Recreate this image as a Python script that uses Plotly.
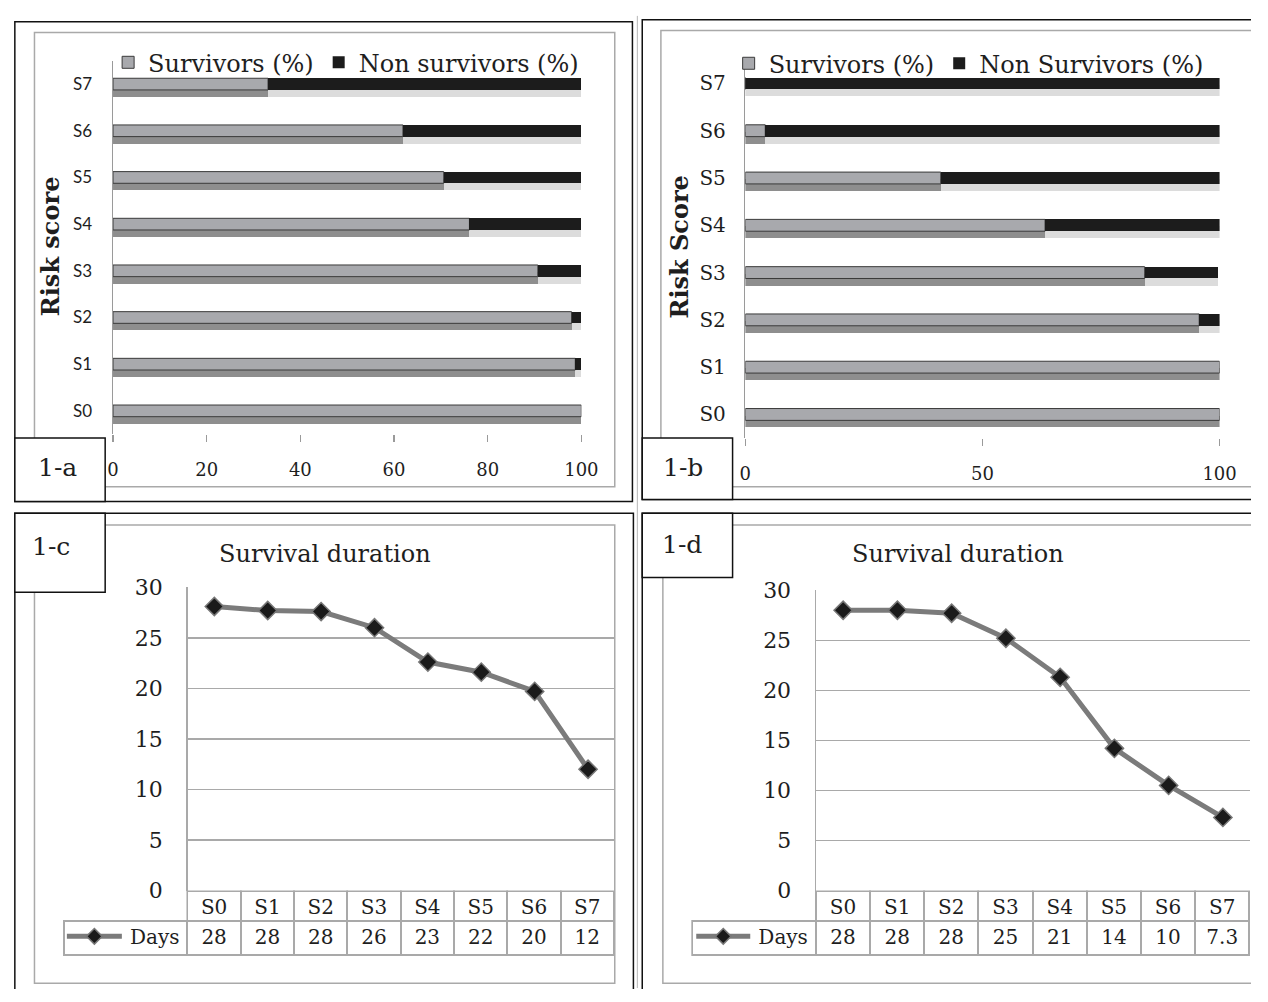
import plotly.graph_objects as go

W, H = 1268, 1002
def px(x): return x / W
def py(y): return 1 - y / H

# ---------------- data ----------------
scores = ["S0", "S1", "S2", "S3", "S4", "S5", "S6", "S7"]
surv_a = [100, 98.7, 97.9, 90.7, 76.1, 70.6, 61.9, 33.1]
non_a = [0, 1.3, 2.1, 9.3, 23.9, 29.4, 38.1, 66.9]
surv_b = [100, 100, 95.7, 84.2, 63.2, 41.2, 4.2, 0]
non_b = [0, 0, 4.3, 15.4, 36.8, 58.8, 95.8, 100]
days_c = [28.1, 27.7, 27.6, 26.0, 22.6, 21.6, 19.7, 12.0]
days_c_text = ["28", "28", "28", "26", "23", "22", "20", "12"]
days_d = [28.0, 28.0, 27.7, 25.2, 21.3, 14.2, 10.5, 7.3]
days_d_text = ["28", "28", "28", "25", "21", "14", "10", "7.3"]
xticks_a = [0, 20, 40, 60, 80, 100]
xticks_b = [0, 50, 100]
yticks_line = [0, 5, 10, 15, 20, 25, 30]

SERIF = "DejaVu Serif"
GREY_BAR = "#a8a9ad"
BLACK_BAR = "#1c1c1c"
GRID = "#a9a9a9"
TXT = "#1e1e1e"

fig = go.Figure()

BW = 0.25
SH = 0.15


def add_bars(xa, ya, surv, non, legend, non_name):
    # soft drop shadows under the bars
    fig.add_trace(go.Bar(y=scores, x=surv, base=[0] * len(surv), orientation="h",
                         width=BW, offset=-BW / 2 - SH, marker=dict(color="#8e8e8e", line=dict(width=0)),
                         xaxis=xa, yaxis=ya, showlegend=False, hoverinfo="skip"))
    fig.add_trace(go.Bar(y=scores, x=non, base=surv, orientation="h",
                         width=BW, offset=-BW / 2 - SH, marker=dict(color="#dcdcdc", line=dict(width=0)),
                         xaxis=xa, yaxis=ya, showlegend=False, hoverinfo="skip"))
    # main bars
    fig.add_trace(go.Bar(y=scores, x=surv, base=[0] * len(surv), orientation="h", name="Survivors (%)",
                         width=BW, offset=-BW / 2,
                         marker=dict(color=GREY_BAR, line=dict(color="#3a3a3a", width=1)),
                         xaxis=xa, yaxis=ya, legend=legend))
    fig.add_trace(go.Bar(y=scores, x=non, base=surv, orientation="h", name=non_name,
                         width=BW, offset=-BW / 2,
                         marker=dict(color=BLACK_BAR, line=dict(color=BLACK_BAR, width=0)),
                         xaxis=xa, yaxis=ya, legend=legend))


add_bars("x", "y", surv_a, non_a, "legend", "Non survivors (%)")
add_bars("x2", "y2", surv_b, non_b, "legend2", "Non Survivors (%)")

line_style = dict(mode="lines+markers", line=dict(color="#7b7b7b", width=5),
                  marker=dict(symbol="diamond", size=14, color="#1a1a1a",
                              line=dict(color="#777777", width=1.5)),
                  showlegend=False)
fig.add_trace(go.Scatter(x=scores, y=days_c, xaxis="x3", yaxis="y3", **line_style))
fig.add_trace(go.Scatter(x=scores, y=days_d, xaxis="x4", yaxis="y4", **line_style))


def add_table(x0, x1, first_w, values_text):
    colw = (x1 - x0 - first_w) / 8
    fig.add_trace(go.Table(
        domain=dict(x=[px(x0), px(x1)], y=[py(970), py(902)]),
        columnwidth=[first_w] + [colw] * 8,
        header=dict(values=[""] + scores, height=30,
                    fill=dict(color=["rgba(0,0,0,0)"] + ["white"] * 8),
                    line=dict(color=["rgba(0,0,0,0)"] + [GRID] * 8, width=2),
                    align="center", font=dict(family=SERIF, size=20, color=TXT)),
        cells=dict(values=[["Days"]] + [[v] for v in values_text], height=34,
                   fill=dict(color="white"),
                   line=dict(color=GRID, width=2),
                   align=["right"] + ["center"] * 8,
                   font=dict(family=SERIF, size=20, color=TXT)),
    ))


add_table(59, 620, 126, days_c_text)
add_table(699, 1267, 126, days_d_text)

bar_x_common = dict(showgrid=False, zeroline=False, showline=False, ticks="outside",
                    ticklen=7, tickcolor="#9a9a9a", tickwidth=1.5,
                    tickfont=dict(family=SERIF, size=18, color=TXT), ticklabelstandoff=12,
                    fixedrange=True)
bar_y_common = dict(showgrid=False, zeroline=False, showline=True, linecolor="#9a9a9a",
                    linewidth=1.5, ticks="", type="category", categoryarray=scores,
                    range=[-0.5, 7.5], fixedrange=True)

fig.update_layout(
    xaxis=dict(domain=[px(109), px(586)], range=[0, 100], tickvals=xticks_a, anchor="y", **bar_x_common),
    yaxis=dict(domain=[py(433), py(50)], anchor="x", ticklabelstandoff=16,
               tickfont=dict(family="Lato", size=17, color=TXT), **bar_y_common),
    xaxis2=dict(domain=[px(753), px(1236)], range=[0, 100], tickvals=xticks_b, anchor="y2", **bar_x_common),
    yaxis2=dict(domain=[py(437), py(49)], anchor="x2", ticklabelstandoff=14,
                tickfont=dict(family=SERIF, size=20, color=TXT), **bar_y_common),
)

line_x_common = dict(type="category", categoryarray=scores, range=[-0.5, 7.5],
                     showticklabels=False, showgrid=False, zeroline=False, showline=False,
                     ticks="", fixedrange=True)
line_y_common = dict(range=[0, 30], tickvals=yticks_line, showgrid=True, gridcolor=GRID,
                     gridwidth=1.5, zeroline=False, showline=True, linecolor=GRID, linewidth=1.5,
                     ticks="", tickfont=dict(family=SERIF, size=22, color=TXT),
                     ticklabelstandoff=19, fixedrange=True)
fig.update_layout(
    xaxis3=dict(domain=[px(185), px(620)], anchor="y3", **line_x_common),
    yaxis3=dict(domain=[py(901), py(590)], anchor="x3", **line_y_common),
    xaxis4=dict(domain=[px(825), px(1267)], anchor="y4", **line_x_common),
    yaxis4=dict(domain=[py(901), py(593)], anchor="x4", **line_y_common),
)

shapes = []
def poly(points, color, width, closed=False, fill=None, layer="below"):
    p = " ".join(("M" if i == 0 else "L") + f" {px(x)} {py(y)}" for i, (x, y) in enumerate(points))
    if closed:
        p += " Z"
    d = dict(type="path", xref="paper", yref="paper", path=p,
             line=dict(color=color, width=width), layer=layer)
    if fill:
        d["fillcolor"] = fill
    shapes.append(d)

def rect(x0, y0, x1, y1, color, width, fill="rgba(0,0,0,0)", layer="below"):
    shapes.append(dict(type="rect", xref="paper", yref="paper",
                       x0=px(x0), x1=px(x1), y0=py(y1), y1=py(y0),
                       line=dict(color=color, width=width), fillcolor=fill, layer=layer))

BLK = "#111111"
GRY = "#a9a9a9"
# outer black frames (panels b, c, d run off the page edge)
rect(9, 10, 638, 502, BLK, 1.5)
poly([(1268, 8), (648, 8), (648, 500), (1268, 500)], BLK, 1.5)
poly([(9, 1002), (9, 514), (639, 514), (639, 1002)], BLK, 1.5)
poly([(648, 1002), (648, 514), (1268, 514)], BLK, 1.5)
# inner grey chart areas
rect(29, 21, 620, 487, GRY, 1.5)
poly([(1268, 19), (667, 19), (667, 487), (1268, 487)], GRY, 1.5)
rect(29, 526, 620, 996, GRY, 1.5)
poly([(1268, 526), (669, 526), (669, 996), (1268, 996)], GRY, 1.5)
poly([(643, 4), (643, 1001)], "#b5b5b5", 1)
# panel label boxes
rect(9, 437, 101, 502, BLK, 1.5, fill="white", layer="above")
rect(648, 437, 740, 500, BLK, 1.5, fill="white", layer="above")
rect(9, 514, 101, 595, BLK, 1.5, fill="white", layer="above")
rect(648, 514, 740, 580, BLK, 1.5, fill="white", layer="above")

# legend keys inside the data tables
for (lx0, lx1, cy) in [(62, 118, 948), (703, 758, 948)]:
    poly([(lx0, cy), (lx1, cy)], "#7b7b7b", 5, layer="above")
    cx = (lx0 + lx1) / 2
    d = 8
    poly([(cx, cy - d), (cx + d, cy), (cx, cy + d), (cx - d, cy)], "#777777", 1.5,
         closed=True, fill="#1a1a1a", layer="above")

annotations = []
def text(x, y, s, size, bold=False, angle=0):
    annotations.append(dict(xref="paper", yref="paper", x=px(x), y=py(y), text=(f"<b>{s}</b>" if bold else s),
                            showarrow=False, xanchor="center", yanchor="middle", textangle=angle,
                            font=dict(family=SERIF, size=size, color=TXT)))

text(52, 467, "1-a", 25)
text(690, 467, "1-b", 25)
text(46, 548, "1-c", 25)
text(688, 546, "1-d", 25)
text(45, 240, "Risk score", 24, bold=True, angle=-90)
text(686, 241, "Risk Score", 24, bold=True, angle=-90)
text(325, 556, "Survival duration", 24)
text(970, 556, "Survival duration", 24)

legend_common = dict(orientation="h", xanchor="left", yanchor="middle", bgcolor="rgba(0,0,0,0)",
                     font=dict(family=SERIF, size=24, color=TXT), itemclick=False, itemdoubleclick=False,
                     traceorder="normal")
fig.update_layout(
    legend=dict(x=px(104), y=py(52), **legend_common),
    legend2=dict(x=px(736), y=py(53), **legend_common),
)

fig.update_layout(
    width=W, height=H, autosize=False,
    margin=dict(l=0, r=0, t=0, b=0),
    paper_bgcolor="white", plot_bgcolor="rgba(0,0,0,0)",
    barmode="overlay", bargap=0,
    shapes=shapes, annotations=annotations,
    font=dict(family=SERIF, color=TXT),
)

fig.write_html("out.html", config={"displayModeBar": False, "staticPlot": True},
               post_script="document.body.style.margin='0';document.body.style.padding='0';"
                           "document.body.style.overflow='hidden';")
